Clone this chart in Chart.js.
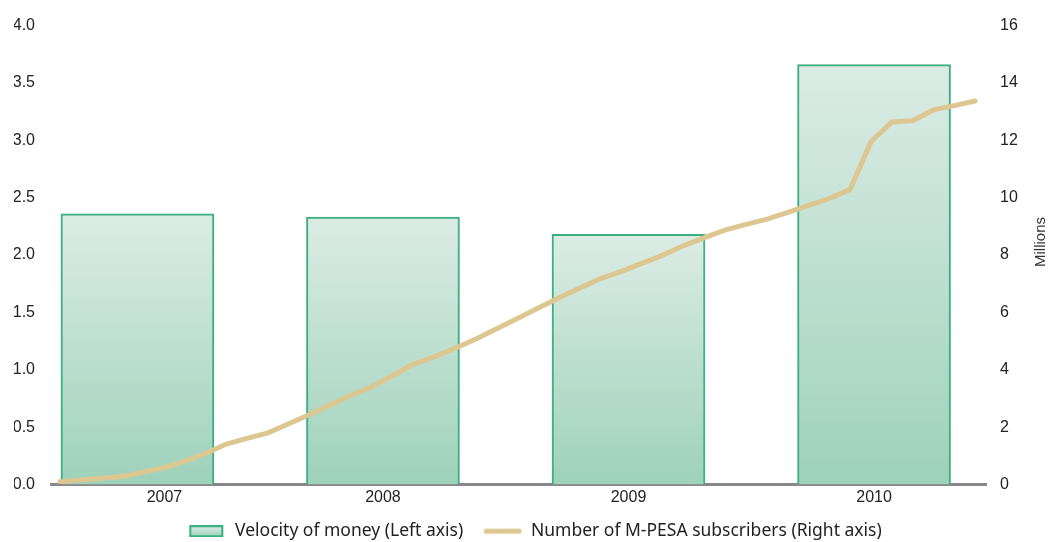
<!DOCTYPE html>
<html><head><meta charset="utf-8">
<script src="https://cdn.jsdelivr.net/npm/chart.js@4/dist/chart.umd.min.js"></script>
<style>html,body{margin:0;padding:0;background:#fff}#wrap{width:1054px;height:542px;position:relative}</style>
</head><body><div id="wrap"><canvas id="c"></canvas></div>
<script>
const years = ['2007', '2008', '2009', '2010'];
const velocity = [2.36, 2.33, 2.18, 3.66];
// Monthly M-PESA subscribers (millions), Apr 2007 - Dec 2010
const subscribers = [0.10, 0.16, 0.22, 0.28, 0.43, 0.58, 0.81, 1.08, 1.41, 1.61, 1.80, 2.12,
  2.44, 2.78, 3.11, 3.41, 3.79, 4.20, 4.45, 4.75, 5.07, 5.43, 5.79, 6.15,
  6.51, 6.85, 7.18, 7.43, 7.72, 8.00, 8.33, 8.61, 8.88, 9.07, 9.25, 9.49,
  9.73, 9.97, 10.29, 11.95, 12.64, 12.68, 13.06, 13.21, 13.37];
const leftTickStep = 0.5, leftMax = 4;
const rightTickStep = 2, rightMax = 16;
const legendLabels = ['Velocity of money (Left axis)', 'Number of M-PESA subscribers (Right axis)'];
const rightTitle = 'Millions';

const GREEN_TOP = '#dcece5', GREEN_BOT = '#9ed2ba', GREEN_BORDER = '#3aaf80', TAN = '#dbc78f';
const TICK_FONT = {family: "'Liberation Sans', Arial, sans-serif", size: 16};

function barGradient(ctx) {
  const chart = ctx.chart;
  if (!chart.chartArea || ctx.type !== 'data') return GREEN_BOT;
  const y = chart.scales.y;
  const top = y.getPixelForValue(ctx.parsed.y);
  const bottom = y.getPixelForValue(0);
  const g = chart.ctx.createLinearGradient(0, top, 0, bottom);
  g.addColorStop(0, GREEN_TOP);
  g.addColorStop(1, GREEN_BOT);
  return g;
}

function legendBoxImg() {
  const c = document.createElement('canvas'); c.width = 40; c.height = 12;
  const x = c.getContext('2d');
  const g = x.createLinearGradient(0, 1, 0, 11);
  g.addColorStop(0, GREEN_TOP); g.addColorStop(1, GREEN_BOT);
  x.fillStyle = g; x.fillRect(4, 1, 32, 10);
  x.strokeStyle = GREEN_BORDER; x.lineWidth = 2; x.strokeRect(4, 1, 32, 10);
  return c;
}
function legendLineImg() {
  const c = document.createElement('canvas'); c.width = 40; c.height = 8;
  const x = c.getContext('2d');
  x.strokeStyle = TAN; x.lineWidth = 5; x.lineCap = 'round';
  x.beginPath(); x.moveTo(4, 4); x.lineTo(37, 4); x.stroke();
  return c;
}
const legendImgs = [legendBoxImg(), legendLineImg()];

const rightTitlePlugin = {
  id: 'rightTitle',
  afterDraw(chart) {
    const ctx = chart.ctx;
    ctx.save();
    ctx.translate(1041, 242);
    ctx.rotate(-Math.PI / 2);
    ctx.font = "15px 'Liberation Sans', Arial, sans-serif";
    ctx.fillStyle = '#333';
    ctx.textAlign = 'center';
    ctx.textBaseline = 'middle';
    ctx.fillText(rightTitle, 0, 0);
    ctx.restore();
  }
};

new Chart(document.getElementById('c'), {
  data: {
    datasets: [
      {
        type: 'bar',
        label: legendLabels[0],
        data: velocity.map((v, i) => ({x: i, y: v})),
        xAxisID: 'xb', yAxisID: 'y',
        grouped: false,
        backgroundColor: barGradient,
        borderColor: GREEN_BORDER,
        borderWidth: 2,
        borderSkipped: 'bottom',
        barThickness: 153,
        order: 2
      },
      {
        type: 'line',
        label: legendLabels[1],
        data: subscribers.map((v, i) => ({x: i, y: v})),
        xAxisID: 'xl', yAxisID: 'y2',
        borderColor: TAN,
        borderWidth: 5,
        pointRadius: 0,
        tension: 0,
        borderCapStyle: 'round',
        borderJoinStyle: 'round',
        order: 1
      }
    ]
  },
  options: {
    responsive: true,
    maintainAspectRatio: false,
    animation: false,
    layout: {padding: {top: 18, left: 14, right: 0, bottom: -8}},
    plugins: {
      tooltip: {enabled: false},
      legend: {
        position: 'bottom',
        labels: {
          usePointStyle: true,
          pointStyleWidth: 40,
          padding: 19,
          color: '#222',
          font: {family: "'Noto Sans', sans-serif", size: 17.5},
          generateLabels(chart) {
            return chart.data.datasets.map((d, i) => ({
              text: d.label, datasetIndex: i, pointStyle: legendImgs[i],
              fontColor: '#222', hidden: false, lineWidth: 0
            }));
          }
        }
      }
    },
    scales: {
      xb: {
        type: 'linear', position: 'bottom', offset: false,
        min: -0.352, max: 3.456,
        grid: {display: false, drawTicks: false, offset: false},
        border: {display: true, color: '#888', width: 3},
        afterBuildTicks(axis) { axis.ticks = years.map((y, i) => ({value: i === 0 ? 0.11 : i})); },
        afterFit(scale) { scale.height = 19; },
        ticks: {
          padding: 3, color: '#222', font: TICK_FONT, maxRotation: 0, autoSkip: false,
          callback: (v) => years[Math.round(v)]
        }
      },
      xl: {
        type: 'linear', display: false, offset: false, min: -0.433, max: 44.53
      },
      y: {
        position: 'left', min: 0, max: leftMax,
        grid: {display: false, drawTicks: false},
        border: {display: false},
        afterFit(scale) { scale.width = 37; },
        ticks: {stepSize: leftTickStep, padding: 16, color: '#222', font: TICK_FONT,
          callback: (v) => v.toFixed(1)}
      },
      y2: {
        position: 'right', min: 0, max: rightMax,
        grid: {display: false, drawTicks: false},
        border: {display: false},
        afterFit(scale) { scale.width = 68; },
        ticks: {stepSize: rightTickStep, padding: 14, color: '#222', font: TICK_FONT}
      }
    }
  },
  plugins: [rightTitlePlugin]
});
</script>
</body></html>
